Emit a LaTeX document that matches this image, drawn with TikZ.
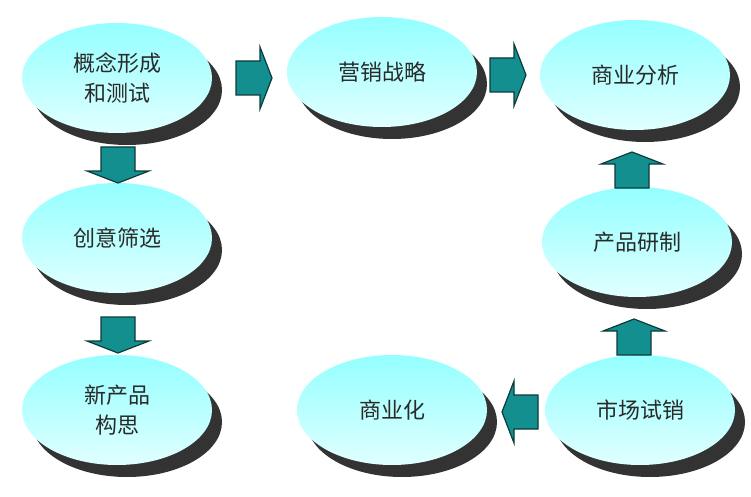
\documentclass[tikz,border=0pt]{standalone}
\usepackage{fontspec}
\setmainfont{Noto Sans CJK SC}
\usetikzlibrary{shapes.geometric}
\definecolor{txt}{HTML}{2A2A2A}
\definecolor{teal1}{HTML}{138F8F}
\definecolor{tealdk}{HTML}{0B3B3B}
\tikzset{
  oval/.style={ellipse, minimum width=190pt, minimum height=110pt, top color=cyan!42!white, bottom color=cyan!12!white, draw=none, font=\fontsize{22pt}{30pt}\selectfont, text=txt, align=center, inner sep=0pt},
  shad/.style={ellipse, minimum width=190pt, minimum height=110pt, fill=black!80, draw=none},
  barrow/.style={fill=teal1, draw=tealdk, line width=1.2pt, line join=miter}
}
\newcommand\blkarrow[4]{% x, y, angle, name
  \begin{scope}[shift={(#1,#2)}, rotate=#3]
    \coordinate (#4) at (0,0);
    \draw[barrow] (-18,-17) -- (6,-17) -- (6,-31) -- (18,0) -- (6,31) -- (6,17) -- (-18,17) -- cycle;
  \end{scope}}
\begin{document}
\begin{tikzpicture}[x=1pt,y=-1pt]
\useasboundingbox (0,0) rectangle (751,497);
\foreach \x/\y in {117/78,382/72,635/75,637/242,640/410,392/410,117/238,117/410}
  \node[shad] at (\x+10,\y+12) {};
\node[oval] (a) at (117,78) {概念形成\\和测试};
\node[oval] (b) at (382,72) {营销战略};
\node[oval] (c) at (635,75) {商业分析};
\node[oval] (d) at (637,242) {产品研制};
\node[oval] (e) at (640,410) {市场试销};
\node[oval] (f) at (392,410) {商业化};
\node[oval] (g) at (117,238) {创意筛选};
\node[oval] (h) at (117,410) {新产品\\构思};
\blkarrow{254}{78}{0}{ab}
\blkarrow{508}{75}{0}{bc}
\blkarrow{632}{170}{90}{cd}
\blkarrow{634}{337}{90}{de}
\blkarrow{520}{412}{180}{ef}
\blkarrow{118}{335}{-90}{hg}
\blkarrow{118}{165}{-90}{ga}
\end{tikzpicture}
\end{document}
